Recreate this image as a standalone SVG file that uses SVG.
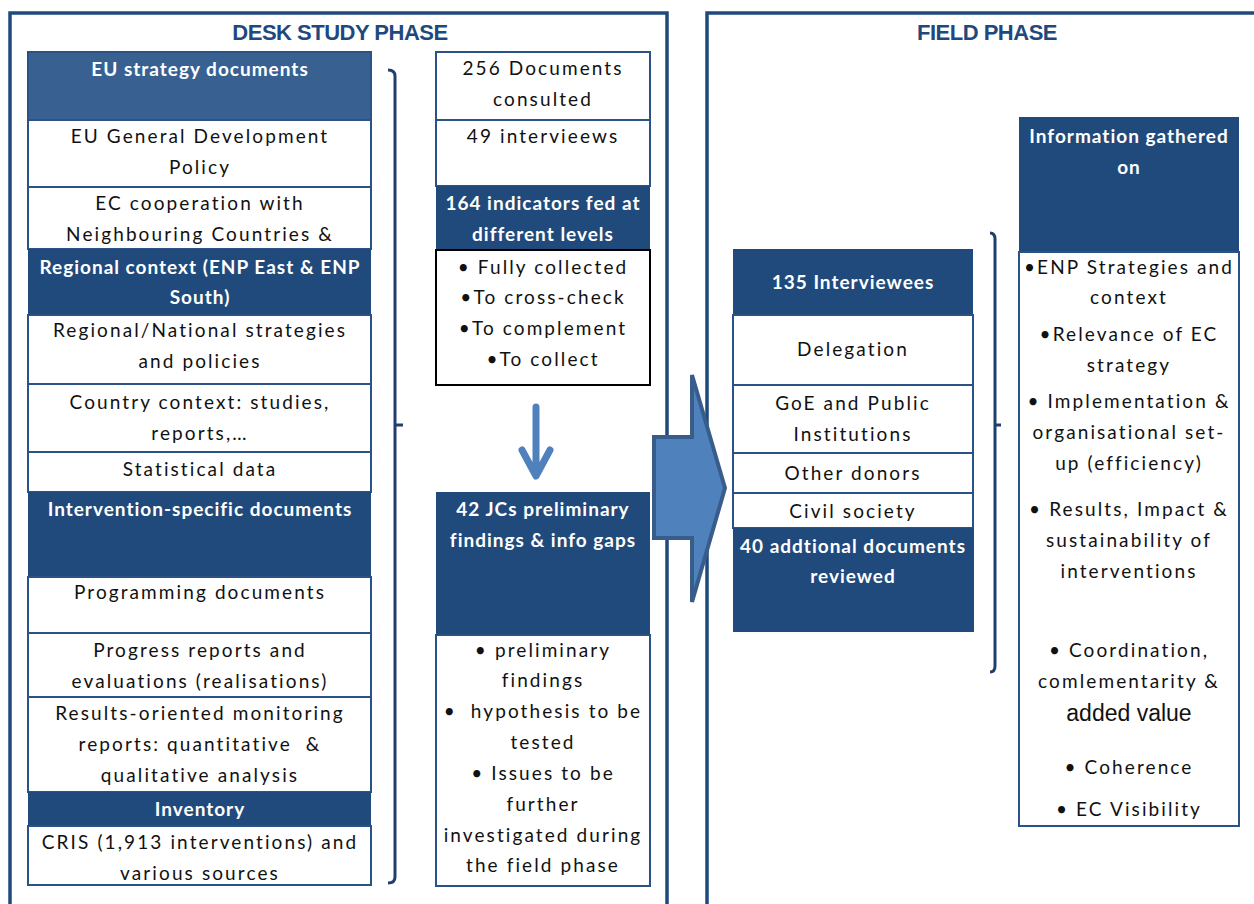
<svg xmlns="http://www.w3.org/2000/svg" width="1254" height="904" viewBox="0 0 1254 904">
<style>
.frame{fill:none;stroke:#1f497d;stroke-width:3.5}
.title{font-family:"Liberation Sans",Arial,sans-serif;font-weight:bold;font-size:22px;fill:#1f497d;letter-spacing:-0.5px;text-anchor:middle}
.hd{fill:#214a7c}
.hdl{fill:#386192}
.cell{fill:#fff;stroke:#2b5285;stroke-width:2}
.cellk{fill:#fff;stroke:#000;stroke-width:2}
.t{font-family:Lato,"Noto Sans",sans-serif;font-size:19px;fill:#111;letter-spacing:2.1px;text-anchor:middle}
.b{font-family:Lato,"Noto Sans",sans-serif;font-size:19px;font-weight:bold;fill:#fff;letter-spacing:1px;text-anchor:middle}
.a{font-family:"Liberation Sans",Arial,sans-serif;font-size:23px;fill:#111;text-anchor:middle}
.br{fill:none;stroke:#1f3f6e;stroke-width:3}
</style>
<rect width="1254" height="904" fill="#fff"/>
<g id="desk-phase">
<rect class="frame" x="10" y="13" width="657" height="910"/>
<text class="title" x="340" y="40">DESK STUDY PHASE</text>
</g>
<g id="field-phase">
<rect class="frame" x="707" y="13" width="620" height="910"/>
<text class="title" x="987" y="40">FIELD PHASE</text>
</g>
<g id="eu-strategy">
<rect class="hdl" x="28" y="52" width="343" height="68" stroke="#2b5285" stroke-width="2"/>
<text class="b" x="200" y="76">EU strategy documents</text>
</g>
<g id="eu-general">
<rect class="cell" x="28" y="120" width="343" height="67"/>
<text class="t" x="200" y="143">EU General Development</text>
<text class="t" x="200" y="174">Policy</text>
</g>
<g id="ec-cooperation">
<rect class="cell" x="28" y="187" width="343" height="62"/>
<text class="t" x="200" y="210">EC cooperation with</text>
<text class="t" x="200" y="241">Neighbouring Countries &amp;</text>
</g>
<g id="regional-context">
<rect class="hd" x="28" y="249" width="343" height="66"/>
<text class="b" x="200" y="274">Regional context (ENP East &amp; ENP</text>
<text class="b" x="200" y="304">South)</text>
</g>
<g id="regional-national">
<rect class="cell" x="28" y="315" width="343" height="69"/>
<text class="t" x="200" y="337">Regional/National strategies</text>
<text class="t" x="200" y="368">and policies</text>
</g>
<g id="country-context">
<rect class="cell" x="28" y="384" width="343" height="68"/>
<text class="t" x="200" y="409">Country context: studies,</text>
<text class="t" x="200" y="440">reports,…</text>
</g>
<g id="statistical-data">
<rect class="cell" x="28" y="452" width="343" height="40"/>
<text class="t" x="200" y="476">Statistical data</text>
</g>
<g id="intervention-specific">
<rect class="hd" x="28" y="492" width="343" height="85"/>
<text class="b" x="200" y="516">Intervention-specific documents</text>
</g>
<g id="programming">
<rect class="cell" x="28" y="577" width="343" height="56"/>
<text class="t" x="200" y="599">Programming documents</text>
</g>
<g id="progress-reports">
<rect class="cell" x="28" y="633" width="343" height="64"/>
<text class="t" x="200" y="657">Progress reports and</text>
<text class="t" x="200" y="688">evaluations (realisations)</text>
</g>
<g id="rom-reports">
<rect class="cell" x="28" y="697" width="343" height="95"/>
<text class="t" x="200" y="720">Results-oriented monitoring</text>
<text class="t" x="200" y="751">reports: quantitative&#160; &amp;</text>
<text class="t" x="200" y="782">qualitative analysis</text>
</g>
<g id="inventory">
<rect class="hd" x="28" y="792" width="343" height="34"/>
<text class="b" x="200" y="816">Inventory</text>
</g>
<g id="cris">
<rect class="cell" x="28" y="826" width="343" height="59"/>
<text class="t" x="200" y="849">CRIS (1,913 interventions) and</text>
<text class="t" x="200" y="880">various sources</text>
</g>
<g id="documents-consulted">
<rect class="cell" x="436" y="52" width="214" height="68"/>
<text class="t" x="543" y="75">256 Documents</text>
<text class="t" x="543" y="106">consulted</text>
</g>
<g id="interviews-49">
<rect class="cell" x="436" y="120" width="214" height="66"/>
<text class="t" x="543" y="143">49 intervieews</text>
</g>
<g id="indicators">
<rect class="hd" x="436" y="186" width="214" height="64"/>
<text class="b" x="543" y="210">164 indicators fed at</text>
<text class="b" x="543" y="241">different levels</text>
</g>
<g id="indicator-status">
<rect class="cellk" x="436" y="250" width="214" height="135"/>
<text class="t" x="543" y="274">• Fully collected</text>
<text class="t" x="543" y="304">•To cross-check</text>
<text class="t" x="543" y="335">•To complement</text>
<text class="t" x="543" y="366">•To collect</text>
</g>
<g id="jcs-findings">
<rect class="hd" x="436" y="492" width="214" height="143"/>
<text class="b" x="543" y="516">42 JCs preliminary</text>
<text class="b" x="543" y="547">findings &amp; info gaps</text>
</g>
<g id="jcs-details">
<rect class="cell" x="436" y="635" width="214" height="251"/>
<text class="t" x="543" y="657">• preliminary</text>
<text class="t" x="543" y="687">findings</text>
<text class="t" x="543" y="718">•&#160; hypothesis to be</text>
<text class="t" x="543" y="749">tested</text>
<text class="t" x="543" y="780">• Issues to be</text>
<text class="t" x="543" y="811">further</text>
<text class="t" x="543" y="842">investigated during</text>
<text class="t" x="543" y="872">the field phase</text>
</g>
<g id="interviewees">
<rect class="hd" x="733" y="249" width="240" height="66"/>
<text class="b" x="853" y="289">135 Interviewees</text>
</g>
<g id="delegation">
<rect class="cell" x="733" y="315" width="240" height="70"/>
<text class="t" x="853" y="356">Delegation</text>
</g>
<g id="goe">
<rect class="cell" x="733" y="385" width="240" height="68"/>
<text class="t" x="853" y="410">GoE and Public</text>
<text class="t" x="853" y="441">Institutions</text>
</g>
<g id="other-donors">
<rect class="cell" x="733" y="453" width="240" height="40"/>
<text class="t" x="853" y="480">Other donors</text>
</g>
<g id="civil-society">
<rect class="cell" x="733" y="493" width="240" height="35"/>
<text class="t" x="853" y="518">Civil society</text>
</g>
<g id="additional-docs">
<rect class="hd" x="733" y="528" width="241" height="104"/>
<text class="b" x="853" y="553">40 addtional documents</text>
<text class="b" x="853" y="583">reviewed</text>
</g>
<g id="info-gathered">
<rect class="hd" x="1019" y="117" width="220" height="135"/>
<text class="b" x="1129" y="143">Information gathered</text>
<text class="b" x="1129" y="174">on</text>
</g>
<g id="info-topics">
<rect class="cell" x="1019" y="252" width="220" height="574"/>
<text class="t" x="1129" y="274">•ENP Strategies and</text>
<text class="t" x="1129" y="304">context</text>
<text class="t" x="1129" y="341">•Relevance of EC</text>
<text class="t" x="1129" y="372">strategy</text>
<text class="t" x="1129" y="408">• Implementation &amp;</text>
<text class="t" x="1129" y="439">organisational set-</text>
<text class="t" x="1129" y="470">up (efficiency)</text>
<text class="t" x="1129" y="516">• Results, Impact &amp;</text>
<text class="t" x="1129" y="547">sustainability of</text>
<text class="t" x="1129" y="578">interventions</text>
<text class="t" x="1129" y="657">• Coordination,</text>
<text class="t" x="1129" y="688">comlementarity &amp;</text>
<text class="a" x="1129" y="721">added value</text>
<text class="t" x="1129" y="774">• Coherence</text>
<text class="t" x="1129" y="816">• EC Visibility</text>
</g>
<g id="connectors">
<path class="br" d="M388,70 Q395,70 395,76 L395,877 Q395,883 388,883 M395,425 L403,425"/>
<path class="br" d="M990,233 Q995,233 995,239 L995,666 Q995,672 990,672 M995,425 L1001,425"/>
<path d="M536,407 L536,474 M522,450 L536,476 L550,450" fill="none" stroke="#4f81bd" stroke-width="7" stroke-linecap="round" stroke-linejoin="round"/>
<polygon points="654,437 692,437 692,375 725,488 692,602 692,538 654,538" fill="#4f81bd" stroke="#385d8a" stroke-width="4" stroke-linejoin="miter"/>
</g>
</svg>
